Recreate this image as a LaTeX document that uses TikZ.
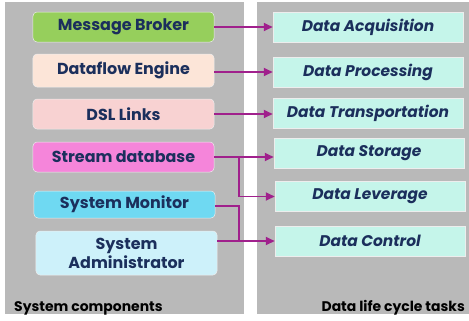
\documentclass[tikz,border=0pt]{standalone}
\usepackage{fontspec}
\setmainfont{Poppins}
\usetikzlibrary{arrows.meta}
\definecolor{panel}{HTML}{B9B9B9}
\definecolor{navy}{HTML}{1B2F5C}
\definecolor{arr}{HTML}{A0208C}
\definecolor{cMB}{HTML}{96CF5C}
\definecolor{cDE}{HTML}{FCE5D8}
\definecolor{cDSL}{HTML}{F8D2D2}
\definecolor{cSD}{HTML}{F585DA}
\definecolor{cSM}{HTML}{6FD9F2}
\definecolor{cSA}{HTML}{CDF1FA}
\definecolor{cR}{HTML}{C5F5EA}
\tikzset{
  lbox/.style={rounded corners=4bp, minimum width=181bp, inner sep=0pt, align=center,
    text=navy, font=\fontsize{16}{19}\selectfont\bfseries, draw=white!75!panel, line width=0.5bp},
  rbox/.style={minimum width=190bp, minimum height=30bp, inner sep=0pt,
    fill=cR, text=navy, font=\fontsize{15.5}{18}\selectfont\bfseries\itshape, draw=white!75!panel, line width=0.5bp},
  link/.style={draw=arr, line width=1.8bp, -{Triangle[length=9bp,width=8bp]}},
  plain/.style={draw=arr, line width=1.8bp},
  paneltitle/.style={font=\fontsize{14}{15}\selectfont\bfseries, text=black, inner sep=0pt}
}
\begin{document}
\begin{tikzpicture}[x=1bp,y=-1bp]
\useasboundingbox (0,0) rectangle (469,320);
\fill[white] (0,0) rectangle (469,320);
\fill[panel] (5,2) rectangle (244,314);
\fill[panel] (257,2) rectangle (469,314);

\node[lbox, fill=cMB, minimum height=30bp] (MB) at (123.5,27) {Message Broker};
\node[lbox, fill=cDE, minimum height=33bp] (DE) at (123.5,70.5) {Dataflow Engine};
\node[lbox, fill=cDSL, minimum height=30bp] (DSL) at (123.5,114) {DSL Links};
\node[lbox, fill=cSD, minimum height=30bp] (SD) at (123.5,157) {Stream database};
\node[lbox, fill=cSM, minimum height=27bp] (SM) at (124.5,204.5) {System Monitor};
\node[lbox, fill=cSA, minimum height=44bp] (SA) at (126.5,253) {System\\Administrator};

\node[rbox] (DA) at (368,27) {Data Acquisition};
\node[rbox] (DP) at (368,72) {Data Processing};
\node[rbox] (DT) at (368,113.5) {Data Transportation};
\node[rbox] (DS) at (369,153) {Data Storage};
\node[rbox] (DL) at (370,196.5) {Data Leverage};
\node[rbox] (DC) at (370,241) {Data Control};

\node[paneltitle, anchor=base west] (L1) at (14,311) {System components};
\node[paneltitle, anchor=base east] (L2) at (465,311) {Data life cycle tasks};

\draw[link] (MB.east) -- (MB.east -| DA.west);
\draw[link] (DP.west -| DE.east) -- (DP.west);
\draw[link] (DSL.east) -- (DSL.east -| DT.west);
\coordinate (b1) at (239,157);
\coordinate (b2) at (239,206);
\draw[link] (SD.east) -- (SD.east -| DS.west);
\draw[link] (b1) -- (b1 |- DL.west) -- (DL.west);
\draw[plain] (b2 -| SM.east) -- (b2) -- (b2 |- DC.west);
\draw[link] (DC.west -| SA.east) -- (DC.west);
\end{tikzpicture}
\end{document}
